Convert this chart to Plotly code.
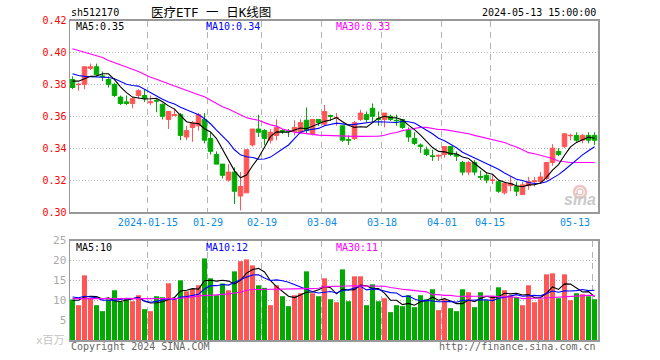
import plotly.graph_objects as go

FONT = "DejaVu Sans Mono, Noto Sans CJK SC, monospace"
RED, GREEN = "#ff5555", "#00aa00"
W, H = 660, 360

opens = [.383,.3798,.380,.390,.391,.3852,.383,.380,.372,.369,.368,.373,.373,.3685,.370,.3675,.358,.3605,.361,.347,.353,.354,
         .358,.346,.336,.330,.320,.325,.310,.312,.342,.352,.351,.345,.348,.351,.351,.3505,.350,.3575,.349,.358,.355,.3604,
         .3588,.354,.3453,.346,.358,.361,.365,.3585,.358,.360,.3575,.358,.351,.346,.342,.339,.3352,.335,.336,.341,.336,.331,
         .325,.331,.3222,.323,.3198,.319,.312,.3165,.316,.311,.3165,.319,.319,.321,.331,.338,.341,.3478,.348,.345,.348,.348]
highs = [.385,.381,.391,.393,.393,.388,.385,.381,.373,.373,.372,.377,.377,.373,.371,.368,.363,.365,.362,.354,.357,.362,
         .362,.350,.338,.330,.330,.328,.325,.339,.352,.361,.352,.352,.358,.352,.352,.3575,.358,.3655,.358,.358,.367,.361,
         .362,.354,.348,.357,.364,.363,.368,.363,.362,.361,.361,.358,.353,.350,.343,.341,.339,.336,.341,.341,.338,.332,
         .332,.3325,.326,.325,.323,.320,.319,.322,.319,.319,.322,.322,.325,.331,.3425,.340,.349,.349,.350,.349,.350,.350]
lows = [.377,.376,.377,.389,.385,.382,.378,.372,.367,.367,.365,.371,.369,.367,.3625,.358,.352,.360,.345,.345,.344,.351,
        .343,.336,.330,.321,.319,.305,.301,.312,.341,.347,.342,.343,.345,.349,.347,.348,.349,.349,.348,.354,.354,.357,
        .354,.344,.342,.345,.357,.356,.356,.354,.353,.357,.354,.352,.344,.342,.337,.335,.332,.332,.334,.335,.332,.323,
        .323,.323,.320,.318,.3175,.312,.311,.313,.310,.311,.314,.316,.318,.320,.329,.335,.340,.345,.344,.343,.343,.342]
closes = [.378,.380,.391,.391,.386,.385,.380,.373,.368,.368,.371,.376,.371,.369,.3695,.360,.363,.361,.348,.351,.356,.361,
          .345,.338,.330,.323,.325,.313,.316,.339,.352,.350,.346,.350,.353,.3505,.3505,.353,.356,.351,.358,.356,.363,.360,
          .359,.345,.345,.356,.362,.358,.360,.358,.362,.358,.3572,.353,.347,.343,.341,.336,.3348,.3355,.341,.336,.335,.325,
          .331,.325,.3218,.320,.320,.313,.318,.318,.313,.317,.319,.3195,.322,.331,.340,.336,.349,.348,.345,.348,.345,.345]
ma5 = [.382,.382,.3835,.385,.3852,.3866,.3866,.383,.3784,.3748,.372,.3712,.3708,.371,.3713,.3691,.3665,.3645,.3603,.3566,.3558,.3554,
       .3522,.3502,.346,.3394,.3322,.3258,.3214,.3232,.329,.334,.3406,.3474,.3502,.3499,.35,.3514,.3526,.3522,.3537,.3548,.3568,.3576,
       .3592,.3566,.3544,.353,.3534,.3532,.3562,.3588,.36,.3592,.359,.3576,.3544,.3516,.3482,.344,.3404,.338,.3377,.3366,.3365,.3345,
       .3336,.3304,.3276,.3246,.3236,.32,.3186,.3178,.3164,.3158,.317,.3171,.3181,.3217,.3263,.3297,.3356,.3408,.3436,.3452,.347,.3462]
ma10 = [.3866,.3855,.385,.3848,.3848,.3846,.3843,.3835,.382,.38,.3793,.3789,.3769,.3747,.373,.3706,.3689,.3677,.3657,.364,.3625,.361,
        .3584,.3553,.3513,.3476,.3438,.339,.3358,.3346,.3342,.3331,.3332,.3344,.3367,.3395,.342,.346,.35,.3512,.3518,.3524,.3541,.3551,
        .3557,.3552,.3546,.3549,.3555,.3562,.3564,.3566,.3565,.3563,.3561,.3569,.3566,.3558,.3537,.3515,.349,.3462,.3447,.3424,.3403,.3375,
        .3358,.3341,.3321,.3306,.329,.3268,.3245,.3227,.3205,.3197,.3185,.3179,.318,.319,.321,.3234,.3263,.3295,.3327,.3358,.3384,.3409]
ma30 = [.4023,.4012,.4003,.3993,.3982,.3968,.395,.3937,.3922,.3908,.3895,.388,.3862,.3845,.3832,.382,.3804,.379,.3775,.376,.3748,.3735,
        .3722,.37,.368,.366,.3645,.3625,.3605,.359,.3582,.3575,.356,.3546,.3538,.352,.351,.35,.3496,.349,.3485,.3482,.348,.3478,
        .3477,.3476,.3475,.3474,.3474,.3474,.3474,.3475,.3481,.3492,.3498,.351,.3517,.3525,.353,.353,.3522,.3517,.3516,.351,.3505,.35,
        .349,.348,.3471,.346,.3452,.3445,.3435,.342,.3408,.339,.3372,.3365,.3356,.3345,.3335,.332,.3315,.331,.331,.331,.331,.331]
volume = [10.2,8.75,16.25,10.4,8.75,7.25,10.2,12.5,9.6,10.4,9.75,11.25,7.75,7.25,11,10.75,14.25,10.3,15,12.25,12.8,13.75,
          20.5,15.5,11.25,14.2,12.5,17.25,19.8,20.25,18.75,13.75,13.1,8.75,13.75,11,8.5,11.25,11.75,17.25,11.75,11,15.5,10.25,
          9.5,17.75,9.75,16,16,8.75,14,9.75,10.5,7,8.75,8.5,11.25,8.25,11.25,10.25,12.75,7.5,10.25,8,7.25,12.75,
          12,8.25,12,10,11,13.25,12.5,11.25,10.75,8.75,13.75,9.5,10.25,16.5,16.75,10.5,16.5,10,11.75,11.5,11,10.25]
vol_ma5 = [10,10,10.8,11,10.9,10.3,10.6,9.8,9.66,10,10.5,10.7,9.75,9.3,9.35,9.6,10.2,10.7,12.3,12.5,12.9,12.8,
           14.9,15,14.8,15,14.8,14.1,15,16.8,17.7,18,17.1,14.9,13.4,12.1,11,10.65,11.25,12,12.1,12.6,13.45,13.15,
           11.6,12.8,12.55,12.65,13.8,13.65,12.9,12.9,11.8,10,10,8.9,9.2,8.75,9.6,9.9,10.75,10,10.4,9.75,9.15,9.15,
           10.05,9.65,10.45,11,10.65,10.9,11.75,11.6,11.75,11.3,11.4,10.6,10.6,11.75,13.35,12.7,14.1,14.05,13.1,12.05,12.15,10.9]
vol_ma10 = [10.8,10.6,11,10.8,10.6,10,10,10,10.2,10.45,10.4,10.65,9.8,9.5,9.7,10.05,10.45,10.2,10.8,10.9,11.25,11.5,
            12.8,13.65,13.65,13.95,13.8,14.5,15,15.8,16.35,16.4,15.6,14.95,15.1,14.9,14.5,13.9,13.1,12.7,12.1,11.8,12.05,12.2,
            11.8,12.45,12.6,13.05,13.5,12.6,12.85,12.7,12.2,11.9,11.8,10.9,11.05,10.3,9.8,9.95,9.8,9.6,9.6,9.7,9.5,9.95,
            10,10,10.1,10.1,9.9,10.5,10.7,11,11.4,11,11.15,11.2,11.1,11.75,12.3,12,12.35,12.3,12.4,12.7,12.4,12.5]
vol_ma30 = [10.4,10.4,10.4,10.4,10.4,10.4,10.4,10.4,10.4,10.4,10.4,10.4,10.35,10.3,10.3,10.3,10.4,10.4,10.5,10.7,10.9,11.1,
            11.2,11.2,11.3,11.5,11.6,11.8,12,12.5,12.7,12.7,12.75,12.75,12.75,12.8,12.8,12.85,12.9,12.9,12.9,13,13.4,13.4,
            13.45,13.5,13.55,13.6,13.6,13.6,13.6,13.6,13.5,13.2,12.9,12.75,12.6,12.45,12.2,12.1,11.4,11.4,11.2,11.2,11,10.9,
            10.95,11,11,11.1,11.05,10.9,10.9,10.8,10.75,10.4,10.5,10.5,10.5,10.6,10.6,10.7,10.8,10.9,11,11.1,11.2,11.2]

tick_index = [13, 23, 32, 42, 52, 62, 70, 87]
tick_labels = ["2024-01-15", "01-29", "02-19", "03-04", "03-18", "04-01", "04-15", "05-13"]
price_ticks = [0.30, 0.32, 0.34, 0.36, 0.38, 0.40, 0.42]
vol_ticks = [5, 10, 15, 20, 25]

idx = list(range(len(closes)))
# gridlines sit a little left of the candle centre in the source chart
tick_pos = [i - 0.42 for i in tick_index]
xrange_ = [-0.417, 87.58]
bar_colors = [RED if c >= o else GREEN for o, c in zip(opens, closes)]


def px(x):
    return x / W


def py(y):
    return 1 - y / H


fig = go.Figure()
fig.add_trace(go.Candlestick(
    x=idx, open=opens, high=highs, low=lows, close=closes, xaxis="x", yaxis="y",
    increasing=dict(line=dict(color=RED, width=1), fillcolor=RED),
    decreasing=dict(line=dict(color=GREEN, width=1), fillcolor=GREEN),
    whiskerwidth=0, hoverinfo="skip", showlegend=False))
for series, color in ((ma30, "#ff00ff"), (ma10, "#0000ff"), (ma5, "#000000")):
    fig.add_trace(go.Scatter(x=idx, y=series, mode="lines", xaxis="x", yaxis="y",
                             line=dict(color=color, width=1.1), hoverinfo="skip", showlegend=False))
fig.add_trace(go.Bar(x=idx, y=volume, xaxis="x2", yaxis="y2", marker=dict(color=bar_colors, line=dict(width=0)),
                     hoverinfo="skip", showlegend=False))
for series, color in ((vol_ma5, "#000000"), (vol_ma10, "#0000ff"), (vol_ma30, "#ff00ff")):
    fig.add_trace(go.Scatter(x=idx, y=series, mode="lines", xaxis="x2", yaxis="y2",
                             line=dict(color=color, width=1.1), hoverinfo="skip", showlegend=False))


def xaxis(anchor, show_labels):
    return dict(domain=[px(70), px(598)], range=xrange_, anchor=anchor, tickmode="array", automargin=False,
                tickvals=tick_pos[:-1] if show_labels else tick_pos,
                ticktext=tick_labels[:-1] if show_labels else tick_labels,
                showticklabels=show_labels, ticks="", showgrid=True, gridcolor="#b4b4b4", griddash="6px,5px",
                gridwidth=1, showline=True, linecolor="#999999", linewidth=1.5, mirror=True, zeroline=False,
                tickfont=dict(family=FONT, size=10, color="#0a8ce6"), rangeslider=dict(visible=False),
                fixedrange=True)


layout = dict(
    template="none",
    width=W, height=H, margin=dict(l=0, r=0, t=0, b=0, pad=0), paper_bgcolor="white", plot_bgcolor="white",
    bargap=1 / 6, boxgap=0.25, boxgroupgap=0, hovermode=False, showlegend=False, font=dict(family=FONT, size=10),
    xaxis=xaxis("y", True),
    yaxis=dict(domain=[py(212), py(20.5)], range=[0.30, 0.42], tickmode="array", tickvals=price_ticks, automargin=False,
               ticktext=[f"{t:.2f}" for t in price_ticks], showgrid=True, gridcolor="#b4b4b4", griddash="1px,2px",
               gridwidth=1, showline=True, linecolor="#999999", linewidth=1.5, mirror=True, zeroline=False,
               ticks="", tickfont=dict(family=FONT, size=10, color="#ff0000"), fixedrange=True),
    xaxis2=xaxis("y2", False),
    yaxis2=dict(domain=[py(340), py(240.5)], range=[0, 25], tickmode="array", tickvals=vol_ticks, automargin=False,
                ticktext=[str(t) for t in vol_ticks], showgrid=True, gridcolor="#b4b4b4", griddash="1px,2px",
                gridwidth=1, showline=True, linecolor="#999999", linewidth=1.5, mirror=True, zeroline=False,
                ticks="", tickfont=dict(family=FONT, size=11, color="#aaaaaa"), fixedrange=True),
)


def note(text, x, y, color="#000000", anchor="left", size=10, **kw):
    return dict(text=text, xref="paper", yref="paper", x=px(x), y=py(y), xanchor=anchor, yanchor="middle",
                showarrow=False, font=dict(family=kw.pop("family", FONT), size=size, color=color), borderpad=0, **kw)


layout["annotations"] = [
    note("sh512170", 70, 13),
    note("医疗ETF 一 日K线图", 150, 13, size=12.5),
    note("2024-05-13 15:00:00", 597, 13, anchor="right"),
    note("MA5:0.35", 75, 27),
    note("MA10:0.34", 205, 27, color="#0000ff"),
    note("MA30:0.33", 335, 27, color="#ff00ff"),
    note("MA5:10", 75, 247),
    note("MA10:12", 205, 247, color="#0000ff"),
    note("MA30:11", 335, 247, color="#ff00ff"),
    note("x百万", 66, 340, color="#c4c4c4", anchor="right", size=11),
    note("Copyright 2024 SINA.COM", 70, 346, color="#666666"),
    note("http://finance.sina.com.cn", 597, 346, color="#666666", anchor="right"),
    note("<b><i>sina</i></b>", 597, 199, color="#c9c9c9", anchor="right", size=16,
         family="Liberation Sans, DejaVu Sans"),
    dict(text=tick_labels[-1], xref="x", yref="paper", x=tick_pos[-1], y=py(222), xanchor="right", yanchor="middle",
         showarrow=False, font=dict(family=FONT, size=10, color="#0a8ce6")),
]
layout["shapes"] = [
    dict(type="circle", xref="paper", yref="paper", x0=px(574), x1=px(586), y0=py(198), y1=py(186),
         line=dict(color="#f0c4c4", width=2.5), fillcolor="rgba(0,0,0,0)", layer="below"),
    dict(type="circle", xref="paper", yref="paper", x0=px(577), x1=px(583), y0=py(195), y1=py(189),
         line=dict(color="#f0c4c4", width=1.5), fillcolor="rgba(0,0,0,0)", layer="below"),
]
fig.update_layout(**layout)

fig.write_html("out.html", config=dict(displayModeBar=False, staticPlot=True),
               post_script="document.body.style.margin='0';")
